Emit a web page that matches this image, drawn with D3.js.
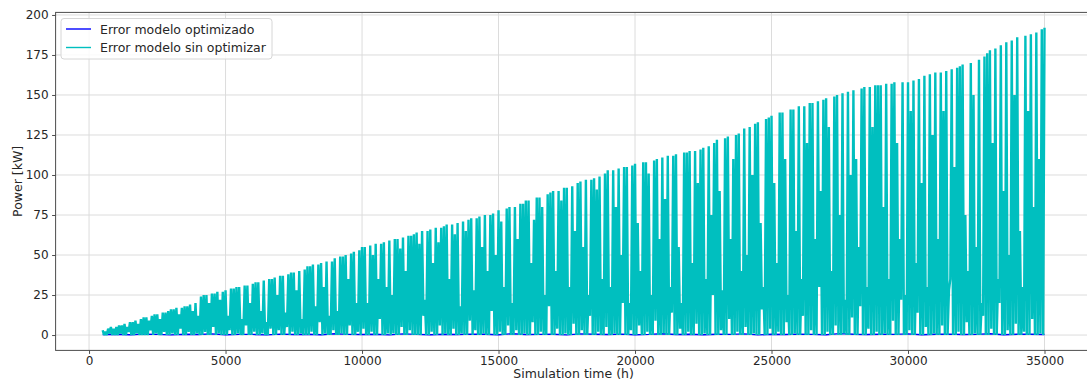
<!DOCTYPE html>
<html>
<head>
<meta charset="utf-8">
<script src="https://cdn.jsdelivr.net/npm/d3@7"></script>
<style>
  html, body { margin: 0; padding: 0; background: #fff; }
  svg { display: block; font-family: "DejaVu Sans", sans-serif; }
</style>
</head>
<body>
<svg id="chart" width="1087" height="380"></svg>
<script>
// Tick labels
const xTicks = [0, 5000, 10000, 15000, 20000, 25000, 30000, 35000];
const yTicks = [0, 25, 50, 75, 100, 125, 150, 175, 200];

// Series names
const seriesNames = ["Error modelo optimizado", "Error modelo sin optimizar"];

// Error of the non-optimised model: daily peaks (kW), every 100 h from 500 h
const peakKW = [
  3, 2, 4, 5, 4,
  5, 6, 6, 7, 5, 8, 8, 9, 7, 10,
  11, 11, 9, 12, 13, 13, 10, 14, 14, 15,
  16, 16, 17, 13, 17, 18, 18, 19, 15, 20,
  12, 24, 25, 25, 20, 26, 26, 27, 22, 27,
  28, 12, 29, 29, 30, 30, 10, 31, 31, 20,
  32, 33, 33, 15, 34, 8, 35, 35, 36, 25,
  37, 37, 14, 38, 39, 39, 28, 40, 10, 41,
  43, 43, 44, 18, 44, 45, 30, 46, 12, 46,
  48, 15, 49, 49, 50, 35, 51, 52, 20, 53,
  55, 55, 20, 56, 50, 57, 35, 57, 58, 30,
  59, 25, 60, 60, 54, 61, 40, 62, 62, 63,
  64, 57, 65, 22, 65, 66, 45, 67, 58, 67,
  68, 69, 35, 69, 63, 70, 18, 71, 65, 72,
  73, 28, 73, 74, 55, 75, 40, 75, 76, 50,
  78, 71, 30, 79, 80, 20, 80, 60, 82, 82,
  84, 84, 45, 72, 86, 86, 80, 25, 88, 89,
  90, 40, 90, 84, 92, 92, 30, 93, 65, 95,
  96, 55, 97, 25, 97, 98, 91, 99, 35, 101,
  103, 30, 103, 80, 104, 50, 105, 105, 20, 106,
  107, 70, 40, 108, 108, 101, 25, 109, 110, 60,
  111, 85, 112, 30, 112, 113, 55, 20, 114, 114,
  115, 45, 115, 95, 116, 117, 35, 118, 75, 120,
  122, 90, 28, 123, 124, 60, 110, 125, 126, 40,
  129, 50, 130, 100, 132, 133, 70, 30, 135, 136,
  137, 95, 45, 139, 139, 110, 25, 141, 141, 65,
  143, 35, 143, 120, 145, 145, 60, 146, 90, 147,
  148, 130, 40, 149, 150, 75, 151, 22, 152, 100,
  153, 110, 55, 154, 155, 30, 155, 130, 156, 156,
  156, 80, 157, 35, 157, 158, 120, 60, 158, 25,
  158, 140, 159, 45, 160, 95, 162, 30, 163, 125,
  164, 60, 164, 140, 165, 28, 166, 105, 167, 168,
  169, 75, 40, 170, 150, 55, 172, 20, 174, 176,
  178, 120, 179, 35, 181, 90, 183, 50, 184, 150,
  186, 65, 30, 187, 140, 188, 80, 189, 110, 191,
  192
];

// Error of the non-optimised model: night-time lows (kW), every 100 h from 550 h
const troughKW = [
  0, 0, 1, 0, 0,
  0, 1, 0, 0, 2, 0, 0, 1, 0, 0,
  0, 0, 3, 0, 1, 0, 0, 2, 0, 0,
  1, 0, 0, 4, 0, 0, 2, 0, 0, 1,
  0, 0, 2, 0, 0, 5, 0, 1, 0, 0,
  0, 3, 0, 0, 1, 0, 0, 6, 0, 0,
  2, 0, 0, 1, 0, 0, 4, 0, 0, 3,
  0, 0, 5, 0, 2, 0, 0, 1, 0, 0,
  0, 2, 0, 0, 8, 0, 1, 0, 0, 3,
  0, 0, 1, 0, 0, 6, 0, 0, 2, 0,
  4, 0, 0, 2, 0, 0, 10, 0, 0, 1,
  0, 1, 0, 0, 5, 0, 0, 3, 0, 0,
  0, 0, 12, 0, 0, 2, 0, 0, 6, 0,
  1, 0, 0, 4, 0, 0, 1, 0, 0, 9,
  0, 3, 0, 0, 1, 0, 0, 15, 0, 0,
  2, 0, 0, 6, 0, 0, 3, 0, 0, 1,
  0, 0, 8, 0, 0, 2, 0, 0, 18, 0,
  0, 4, 0, 0, 1, 0, 0, 7, 0, 0,
  3, 0, 0, 12, 0, 0, 2, 0, 0, 5,
  0, 0, 1, 0, 0, 20, 0, 0, 3, 0,
  0, 6, 0, 0, 2, 0, 0, 9, 0, 0,
  1, 0, 0, 14, 0, 0, 4, 0, 0, 2,
  0, 0, 7, 0, 0, 1, 0, 0, 25, 0,
  0, 3, 0, 0, 10, 0, 0, 2, 0, 0,
  5, 0, 0, 1, 0, 0, 16, 0, 0, 4,
  0, 0, 2, 0, 0, 8, 0, 0, 1, 0,
  0, 12, 0, 0, 3, 0, 0, 30, 0, 0,
  2, 0, 0, 6, 0, 0, 1, 0, 0, 11,
  0, 0, 18, 0, 0, 4, 0, 0, 2, 0,
  0, 1, 0, 0, 9, 0, 0, 22, 0, 0,
  3, 0, 0, 14, 0, 0, 5, 0, 0, 1,
  0, 0, 6, 0, 0, 35, 0, 0, 2, 0,
  0, 8, 0, 0, 1, 0, 0, 12, 0, 0,
  4, 0, 0, 20, 0, 0, 3, 0, 0, 7,
  0, 0, 2, 0, 0, 10, 0, 0, 1, 0
];

// Error of the optimised model (kW), every 500 h from 500 h
const optimizadoKW = [
  0.3, 0.5, 0.2, 0.6, 0.4, 0.1, 0.5, 0.3, 0.7, 0.2,
  0.4, 0.4, 0.1, 0.6, 0.3, 0.5, 0.2, 0.8, 0.4, 0.3,
  0.5, 0.1, 0.7, 0.4, 0.2, 0.5, 0.3, 0.6, 0.5, 0.2,
  0.8, 0.3, 0.4, 0.5, 0.1, 0.7, 0.5, 0.3, 0.6, 0.2,
  0.4, 0.8, 0.3, 0.5, 0.2, 0.5, 0.4, 0.7, 0.1, 0.5,
  0.3, 0.6, 0.4, 0.2, 0.9, 0.5, 0.3, 0.5, 0.4, 0.7,
  0.2, 0.5, 0.6, 0.3, 0.4, 0.8, 0.2, 0.5, 0.5, 0.3
];

// Sampling times (h)
const peakHours = d3.range(500, 35001, 100);
const troughHours = d3.range(550, 35000, 100);
const optHours = d3.range(500, 35001, 500);

const colors = ["#0000ff", "#00bfbf"];

// Interleave peaks and lows into one time series
const sinOptimizar = [];
peakKW.forEach((v, i) => {
  sinOptimizar.push([peakHours[i], v]);
  if (i < troughKW.length) sinOptimizar.push([troughHours[i], troughKW[i]]);
});
const optimizado = optimizadoKW.map((v, i) => [optHours[i], v]);

const svg = d3.select("#chart");
const plot = { left: 55.6, right: 1091.6, top: 12.4, bottom: 350.4 };

const x = d3.scaleLinear().domain([-1225, 36725]).range([plot.left, plot.right]);
const y = d3.scaleLinear().domain([-9.6, 201.6]).range([plot.bottom, plot.top]);

const textColor = "#262626";
const spineColor = "#4d4d4d";

// Grid
const grid = svg.append("g").attr("stroke", "#dcdcdc").attr("stroke-width", 1);
grid.selectAll("line.gx").data(xTicks).join("line")
  .attr("x1", d => x(d)).attr("x2", d => x(d))
  .attr("y1", plot.top).attr("y2", plot.bottom);
grid.selectAll("line.gy").data(yTicks).join("line")
  .attr("x1", plot.left).attr("x2", plot.right)
  .attr("y1", d => y(d)).attr("y2", d => y(d));

// Clip region
svg.append("clipPath").attr("id", "plot-clip")
  .append("rect")
  .attr("x", plot.left).attr("y", plot.top)
  .attr("width", plot.right - plot.left).attr("height", plot.bottom - plot.top);

const line = d3.line().x(d => x(d[0])).y(d => y(d[1]));

const lines = svg.append("g").attr("clip-path", "url(#plot-clip)");
lines.append("path")
  .datum(optimizado)
  .attr("fill", "none")
  .attr("stroke", colors[0])
  .attr("stroke-width", 1.4)
  .attr("d", line);
lines.append("path")
  .datum(sinOptimizar)
  .attr("fill", "none")
  .attr("stroke", colors[1])
  .attr("stroke-width", 2.4)
  .attr("stroke-linejoin", "miter")
  .attr("stroke-miterlimit", 1.2)
  .attr("d", line);

// Axes
const xAxis = svg.append("g")
  .attr("transform", `translate(0,${plot.bottom})`)
  .call(d3.axisBottom(x).tickValues(xTicks).tickFormat(d3.format("d")).tickSizeOuter(0).tickSize(3.5).tickPadding(2.5));
const yAxis = svg.append("g")
  .attr("transform", `translate(${plot.left},0)`)
  .call(d3.axisLeft(y).tickValues(yTicks).tickFormat(d3.format("d")).tickSizeOuter(0).tickSize(3.5).tickPadding(3.5));

[xAxis, yAxis].forEach(a => {
  a.select(".domain").remove();
  a.selectAll(".tick line").attr("stroke", spineColor);
  a.selectAll(".tick text")
    .attr("fill", textColor)
    .style("font-family", "'DejaVu Sans', sans-serif")
    .style("font-size", "12px");
});

// Spines
const spines = svg.append("g").attr("stroke", spineColor).attr("stroke-width", 1).attr("fill", "none");
spines.append("rect")
  .attr("x", plot.left).attr("y", plot.top)
  .attr("width", plot.right - plot.left).attr("height", plot.bottom - plot.top);

// Axis titles
svg.append("text")
  .attr("x", (plot.left + plot.right) / 2)
  .attr("y", 378)
  .attr("text-anchor", "middle")
  .attr("fill", textColor)
  .style("font-size", "12.5px")
  .text("Simulation time (h)");
svg.append("text")
  .attr("transform", `translate(22,${(plot.top + plot.bottom) / 2}) rotate(-90)`)
  .attr("text-anchor", "middle")
  .attr("fill", textColor)
  .style("font-size", "12.5px")
  .text("Power [kW]");

// Legend
const legend = svg.append("g");
legend.append("rect")
  .attr("x", 61).attr("y", 18.5)
  .attr("width", 211).attr("height", 40.5)
  .attr("rx", 3)
  .attr("fill", "#fff").attr("fill-opacity", 0.85)
  .attr("stroke", "#d6d6d6");
seriesNames.forEach((name, i) => {
  const yy = 29 + i * 18.5;
  legend.append("line")
    .attr("x1", 66).attr("x2", 91)
    .attr("y1", yy).attr("y2", yy)
    .attr("stroke", colors[i]).attr("stroke-width", 1.4);
  legend.append("text")
    .attr("x", 100).attr("y", yy + 4.5)
    .attr("fill", textColor)
    .style("font-size", "12.5px")
    .text(name);
});
</script>
</body>
</html>
